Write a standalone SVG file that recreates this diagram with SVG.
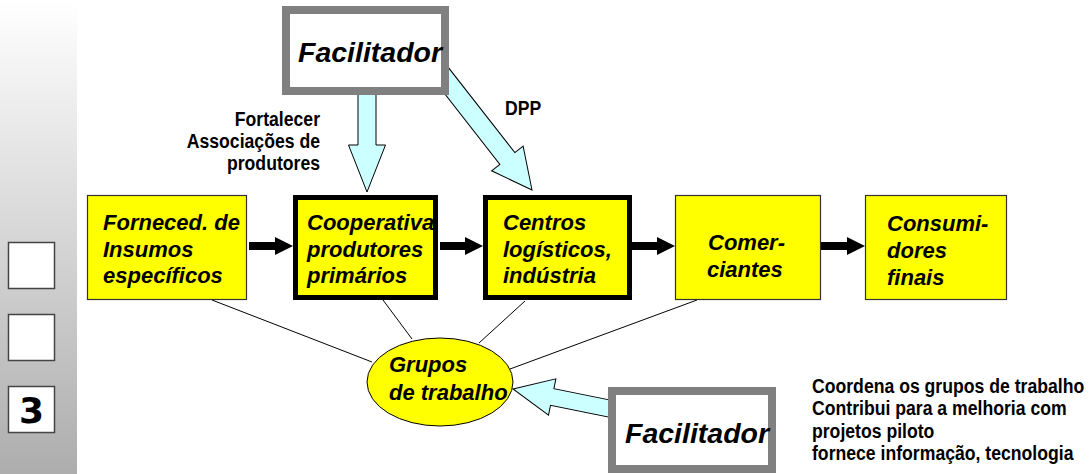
<svg xmlns="http://www.w3.org/2000/svg" width="1089" height="474" viewBox="0 0 1089 474">
<defs>
<linearGradient id="panel" x1="0" y1="0" x2="0" y2="1">
<stop offset="0" stop-color="#ffffff"/>
<stop offset="1" stop-color="#adadad"/>
</linearGradient>
<style>
.box{fill:#ffff00;stroke:#333;stroke-width:1.2}
.thick{fill:#ffff00;stroke:#000;stroke-width:5}
.fac{fill:#fff;stroke:#808080;stroke-width:8}
.cy{fill:#ccffff;stroke:#000;stroke-width:1}
.blk{fill:#000}
.ln{stroke:#000;stroke-width:1;fill:none}
.bi{font-family:"Liberation Sans",Arial,sans-serif;font-weight:bold;font-style:italic;font-size:22px;fill:#000}
.fl{font-family:"Liberation Sans",Arial,sans-serif;font-weight:bold;font-style:italic;font-size:28.5px;fill:#000}
.lb{font-family:"Liberation Sans",Arial,sans-serif;font-weight:bold;font-size:21px;fill:#000}
.sq{fill:#fff;stroke:#444;stroke-width:1.5}
</style>
</defs>
<rect x="0" y="0" width="1089" height="474" fill="#fff"/>
<g id="sidebar">
<rect x="0" y="0" width="77" height="474" fill="url(#panel)"/>
<rect class="sq" x="8.5" y="242.5" width="46" height="46"/>
<rect class="sq" x="8.5" y="314.5" width="46" height="46"/>
<rect class="sq" x="8.5" y="386.5" width="46" height="46"/>
<text x="31.5" y="423" text-anchor="middle" font-family="DejaVu Sans,sans-serif" font-weight="bold" font-size="36">3</text>
</g>
<g id="connectors">
<line class="ln" x1="212" y1="300" x2="372" y2="362"/>
<line class="ln" x1="383" y1="300" x2="412" y2="339"/>
<line class="ln" x1="525" y1="301" x2="479" y2="343"/>
<line class="ln" x1="697" y1="300" x2="510" y2="369"/>
<polygon class="blk" points="249,242 275,242 275,237 293,246 275,255 275,250 249,250"/>
<polygon class="blk" points="440,242 465,242 465,237 483,246 465,255 465,250 440,250"/>
<polygon class="blk" points="632,242 657,242 657,237 675,246 657,255 657,250 632,250"/>
<polygon class="blk" points="821,242 847,242 847,237 865,246 847,255 847,250 821,250"/>
<polygon class="cy" transform="translate(367,192) rotate(90)" points="0,0 -47,18.5 -47,9 -102,9 -102,-9 -47,-9 -47,-18.5"/>
<polygon class="cy" transform="translate(532,190) rotate(52)" points="0,0 -40,20 -40,9.5 -160,9.5 -160,-9.5 -40,-9.5 -40,-20"/>
<polygon class="cy" transform="translate(513,389) rotate(191.5)" points="0,0 -40,18.5 -40,8.5 -105,8.5 -105,-8.5 -40,-8.5 -40,-18.5"/>
</g>
<g id="facilitador-top">
<rect class="fac" x="286" y="10" width="159" height="81"/>
<text class="fl" x="298" y="61.5">Facilitador</text>
</g>
<g id="facilitador-bottom">
<rect class="fac" x="612" y="391" width="160" height="78"/>
<text class="fl" x="625" y="443">Facilitador</text>
</g>
<g id="label-fortalecer">
<g transform="translate(320,0) scale(0.84,1)">
<text class="lb" x="0" y="126" text-anchor="end">Fortalecer</text>
<text class="lb" x="0" y="148" text-anchor="end">Associações de</text>
<text class="lb" x="0" y="170" text-anchor="end">produtores</text>
</g>
</g>
<g id="label-dpp">
<g transform="translate(505,0) scale(0.84,1)">
<text class="lb" x="0" y="115">DPP</text>
</g>
</g>
<g id="forneced">
<rect class="box" x="87.5" y="195.5" width="159" height="104"/>
<text class="bi" x="103" y="230">Forneced. de</text>
<text class="bi" x="103" y="256.5">Insumos</text>
<text class="bi" x="103" y="283">específicos</text>
</g>
<g id="cooperativa">
<rect class="thick" x="295.5" y="197.5" width="140" height="100"/>
<text class="bi" x="307" y="230">Cooperativa</text>
<text class="bi" x="307" y="256.5">produtores</text>
<text class="bi" x="307" y="283">primários</text>
</g>
<g id="centros">
<rect class="thick" x="485.5" y="197.5" width="144" height="100"/>
<text class="bi" x="503" y="230">Centros</text>
<text class="bi" x="503" y="256.5">logísticos,</text>
<text class="bi" x="503" y="283">indústria</text>
</g>
<g id="comerciantes">
<rect class="box" x="675.5" y="195.5" width="145" height="104"/>
<text class="bi" x="708" y="250">Comer-</text>
<text class="bi" x="707" y="277">ciantes</text>
</g>
<g id="consumidores">
<rect class="box" x="865.5" y="195.5" width="141" height="104"/>
<text class="bi" x="887" y="231">Consumi-</text>
<text class="bi" x="887" y="258">dores</text>
<text class="bi" x="887" y="285">finais</text>
</g>
<g id="grupos">
<ellipse cx="440" cy="382" rx="73" ry="44" fill="#ffff00" stroke="#000" stroke-width="1"/>
<text class="bi" x="389" y="372">Grupos</text>
<text class="bi" x="389" y="400">de trabalho</text>
</g>
<g id="note">
<g transform="translate(812,0) scale(0.84,1)">
<text class="lb" x="0" y="393">Coordena os grupos de trabalho</text>
<text class="lb" x="0" y="415.5">Contribui para a melhoria com</text>
<text class="lb" x="0" y="438">projetos piloto</text>
<text class="lb" x="0" y="460.5">fornece informação, tecnologia</text>
</g>
</g>
</svg>
